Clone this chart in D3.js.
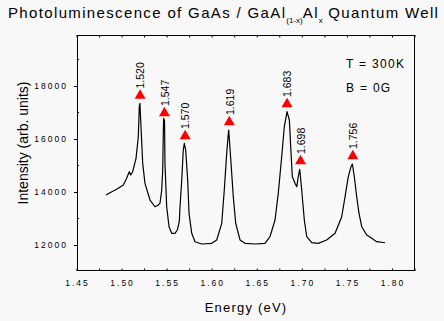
<!DOCTYPE html>
<html>
<head>
<meta charset="utf-8">
<script src="https://cdn.jsdelivr.net/npm/d3@7"></script>
<style>
  body { margin: 0; background: #f8f8f8; }
  text { font-family: "Liberation Sans", Arial, sans-serif; fill: #000; }
</style>
</head>
<body>
<div id="chart"></div>
<script>
// spectrum
var energy = [1.4822, 1.4866, 1.4940, 1.5014, 1.5051, 1.5080, 1.5096, 1.5118, 1.5155, 1.5180,
  1.5191, 1.5198, 1.5210, 1.5229, 1.5254, 1.5310, 1.5365, 1.5402, 1.5421, 1.5440,
  1.5451, 1.5458, 1.5462, 1.5471, 1.5476, 1.5495, 1.5521, 1.5551, 1.5587, 1.5613,
  1.5635, 1.5643, 1.5662, 1.5679, 1.5691, 1.5706, 1.5728, 1.5743, 1.5773, 1.5809,
  1.5884, 1.5995, 1.6050, 1.6106, 1.6134, 1.6161, 1.6179, 1.6183, 1.6209, 1.6234,
  1.6261, 1.6309, 1.6364, 1.6475, 1.6586, 1.6641, 1.6697, 1.6733, 1.6771, 1.6800,
  1.6827, 1.6830, 1.6856, 1.6871, 1.6889, 1.6919, 1.6938, 1.6955, 1.6971, 1.6993,
  1.7022, 1.7049, 1.7104, 1.7177, 1.7270, 1.7363, 1.7437, 1.7474, 1.7510, 1.7540,
  1.7555, 1.7577, 1.7603, 1.7629, 1.7659, 1.7714, 1.7770, 1.7825, 1.7917];
var intensity = [13887, 13974, 14102, 14264, 14517, 14766, 14642, 14766, 15272, 16087,
  17220, 17348, 16465, 15083, 14329, 13698, 13445, 13510, 13585, 14076,
  14830, 16340, 16782, 16680, 15083, 13445, 12691, 12441, 12441, 12566,
  12879, 13445, 14453, 15585, 15838, 15585, 14453, 13196, 12442, 12125,
  12038, 12064, 12189, 12819, 14076, 15461, 16216, 16340, 15083, 13823,
  12819, 12189, 12064, 12038, 12064, 12313, 12944, 13951, 15332, 16465,
  16970, 17031, 16718, 15710, 14578, 14329, 14200, 14578, 14857, 14076,
  12944, 12313, 12087, 12064, 12189, 12442, 13068, 13823, 14578, 14955,
  15057, 14578, 13823, 13196, 12691, 12377, 12253, 12125, 12087];

// peak markers
var peakEnergy = [1.520, 1.547, 1.570, 1.619, 1.683, 1.698, 1.756];
var peakIntensity = [17642, 16982, 16114, 16642, 17321, 15170, 15359];
var peakLabels = ["1.520", "1.547", "1.570", "1.619", "1.683", "1.698", "1.756"];

var xTicks = [1.45, 1.50, 1.55, 1.60, 1.65, 1.70, 1.75, 1.80];
var yTicks = [12000, 14000, 16000, 18000];
var notes = ["T = 300K", "B = 0G"];

var width = 444, height = 321;
var margin = ({top: 35, right: 29, bottom: 50, left: 77});

var svg = d3.select("#chart")
  .append("svg")
  .attr("width", width)
  .attr("height", height);

svg.append("rect")
  .attr("width", width).attr("height", height)
  .attr("fill", "#f8f8f8");

var x = d3.scaleLinear()
  .domain([1.45, 1.825])
  .range([margin.left, width - margin.right]);
var y = d3.scaleLinear()
  .domain([11020, 19925])
  .range([height - margin.bottom, margin.top]);

var minorX = d3.range(1.45, 1.826, 0.025);
var minorY = [13000, 15000, 17000, 19000];

// bottom axis: labels, short inward ticks
var xAxis = g => g
  .attr("transform", `translate(0,${height - margin.bottom})`)
  .call(d3.axisBottom(x).tickValues(xTicks).tickFormat(d3.format(".2f")).tickSize(0).tickPadding(9))
  .call(g => g.select(".domain").remove())
  .call(g => g.selectAll("text")
    .style("font-size", "8.5px")
    .style("letter-spacing", "2px"));

svg.append("g").call(xAxis);

svg.append("g")
  .selectAll("line")
  .data(minorX)
  .join("line")
    .attr("x1", d => x(d)).attr("x2", d => x(d))
    .attr("y1", height - margin.bottom).attr("y2", height - margin.bottom - 2.5)
    .attr("stroke", "#000");

svg.append("g")
  .selectAll("line")
  .data(minorX)
  .join("line")
    .attr("x1", d => x(d)).attr("x2", d => x(d))
    .attr("y1", margin.top).attr("y2", margin.top + 2.5)
    .attr("stroke", "#000");

// left axis: outward major ticks
var yAxis = g => g
  .attr("transform", `translate(${margin.left},0)`)
  .call(d3.axisLeft(y).tickValues(yTicks).tickFormat(d3.format("d")).tickSize(3).tickPadding(6))
  .call(g => g.select(".domain").remove())
  .call(g => g.selectAll("text")
    .style("font-size", "8.5px")
    .style("letter-spacing", "2px"));

svg.append("g").call(yAxis);

svg.append("g")
  .selectAll("line")
  .data(minorY)
  .join("line")
    .attr("x1", margin.left).attr("x2", margin.left + 2)
    .attr("y1", d => y(d)).attr("y2", d => y(d))
    .attr("stroke", "#000");

// frame
svg.append("rect")
  .attr("x", margin.left + 0.5).attr("y", margin.top + 0.5)
  .attr("width", width - margin.left - margin.right - 1)
  .attr("height", height - margin.top - margin.bottom - 1)
  .attr("fill", "none")
  .attr("stroke", "#000");

// spectrum
var line = d3.line()
  .x(i => x(energy[i]))
  .y(i => y(intensity[i]));

svg.append("path")
  .datum(d3.range(energy.length))
  .attr("fill", "none")
  .attr("stroke", "#000")
  .attr("stroke-width", 1.2)
  .attr("stroke-linejoin", "round")
  .attr("d", line);

// red triangles + rotated labels
var peaks = svg.append("g")
  .selectAll("g")
  .data(d3.range(peakEnergy.length))
  .join("g")
    .attr("transform", i => `translate(${x(peakEnergy[i])},${y(peakIntensity[i])})`);

peaks.append("path")
  .attr("d", d3.symbol(d3.symbolTriangle, 52))
  .attr("fill", "#ff0000");

peaks.append("text")
  .attr("transform", "translate(0.5,-7) rotate(-90)")
  .attr("dy", "0.35em")
  .style("font-size", "10.5px")
  .text(i => peakLabels[i]);

// notes
svg.append("g")
  .selectAll("text")
  .data(notes)
  .join("text")
    .attr("x", 346)
    .attr("y", (d, i) => 68 + i * 23.5)
    .style("font-size", "12px")
    .style("letter-spacing", "1.3px")
    .text(d => d);

// title
var title = svg.append("text")
  .attr("x", 8)
  .attr("y", 18)
  .style("font-size", "15px")
  .style("letter-spacing", "1.35px");
title.append("tspan").text("Photoluminescence of GaAs / GaAl");
title.append("tspan").attr("dy", 5).style("font-size", "8px").style("letter-spacing", "0px").text("(1-x)");
title.append("tspan").attr("dy", -5).text("Al");
title.append("tspan").attr("dy", 5).style("font-size", "8px").style("letter-spacing", "0px").text("x");
title.append("tspan").attr("dy", -5).text(" Quantum Well");

// axis titles
svg.append("text")
  .attr("x", (margin.left + width - margin.right) / 2)
  .attr("y", 311.5)
  .attr("text-anchor", "middle")
  .style("font-size", "13px")
  .style("letter-spacing", "1.2px")
  .text("Energy (eV)");

svg.append("text")
  .attr("transform", `translate(28,${143}) rotate(-90)`)
  .attr("text-anchor", "middle")
  .style("font-size", "14px")
  .text("Intensity (arb. units)");
</script>
</body>
</html>
